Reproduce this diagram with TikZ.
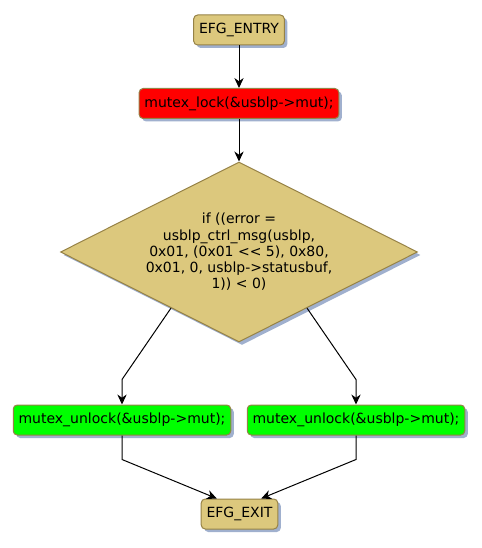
\documentclass[tikz,border=0pt]{standalone}
\usepackage{fontspec}
\setmainfont{DejaVu Sans}
\definecolor{efgtan}{RGB}{220,200,125}
\definecolor{efgline}{RGB}{150,130,70}
\definecolor{efgshadow}{RGB}{160,176,206}
\definecolor{efgred}{RGB}{255,0,0}
\definecolor{efggreen}{RGB}{0,255,0}
\usetikzlibrary{arrows.meta,positioning,shapes.geometric,calc,shadows}

\begin{document}
\begin{tikzpicture}[x=0.75pt, y=-0.75pt,
    box/.style={rectangle, rounded corners=3pt, draw=efgline, line width=0.75pt,
      minimum height=22.5pt, inner xsep=4pt, font=\fontsize{10.5}{12.2}\selectfont,
      drop shadow={shadow xshift=2.25pt, shadow yshift=-2.25pt, fill=efgshadow, opacity=1}},
    decision/.style={diamond, draw=efgline, line width=0.75pt, fill=efgtan, inner sep=0pt,
      aspect=1.98, minimum width=267.75pt, minimum height=135pt, align=center,
      font=\fontsize{10.5}{12.2}\selectfont,
      drop shadow={shadow xshift=2.25pt, shadow yshift=-2.25pt, fill=efgshadow, opacity=1}},
    arr/.style={-{Stealth[length=7.5pt, width=7pt]}, line width=0.75pt}
  ]
    \useasboundingbox (0,0) rectangle (481,548);
    % Entry and lock
    \node[box, fill=efgtan] (entry) at (239, 30) {EFG\_ENTRY};
    \node[box, fill=efgred] (lock) at (239, 103.5) {mutex\_lock(\&usblp->mut);};
    \draw[arr] (entry) -- (lock);
    % Condition
    \node[decision] (cond) at (239, 252)
      {if ((error =\\
       usblp\_ctrl\_msg(usblp,\\
       0x01, (0x01 <{}< 5), 0x80,\\
       0x01, 0, usblp->statusbuf,\\
       1)) < 0)};
    \draw[arr] (lock) -- (cond);
    % Two branches
    \node[box, fill=efggreen] (unlockl) at (122, 420) {mutex\_unlock(\&usblp->mut);};
    \node[box, fill=efggreen] (unlockr) at (356, 420) {mutex\_unlock(\&usblp->mut);};
    \coordinate (condl) at ($(cond.west)!0.62!(cond.south)$);
    \coordinate (condr) at ($(cond.east)!0.62!(cond.south)$);
    \draw[arr] (condl) -- ([yshift=18.75pt]unlockl.north) -- (unlockl.north);
    \draw[arr] (condr) -- ([yshift=18.75pt]unlockr.north) -- (unlockr.north);
    % Exit
    \node[box, fill=efgtan] (exit) at (239.5, 514) {EFG\_EXIT};
    \draw[arr] (unlockl.south) -- ([yshift=-18pt]unlockl.south) -- ([xshift=12pt]exit.north west);
    \draw[arr] (unlockr.south) -- ([yshift=-18pt]unlockr.south) -- ([xshift=-12.75pt]exit.north east);
  \end{tikzpicture}
\end{document}
